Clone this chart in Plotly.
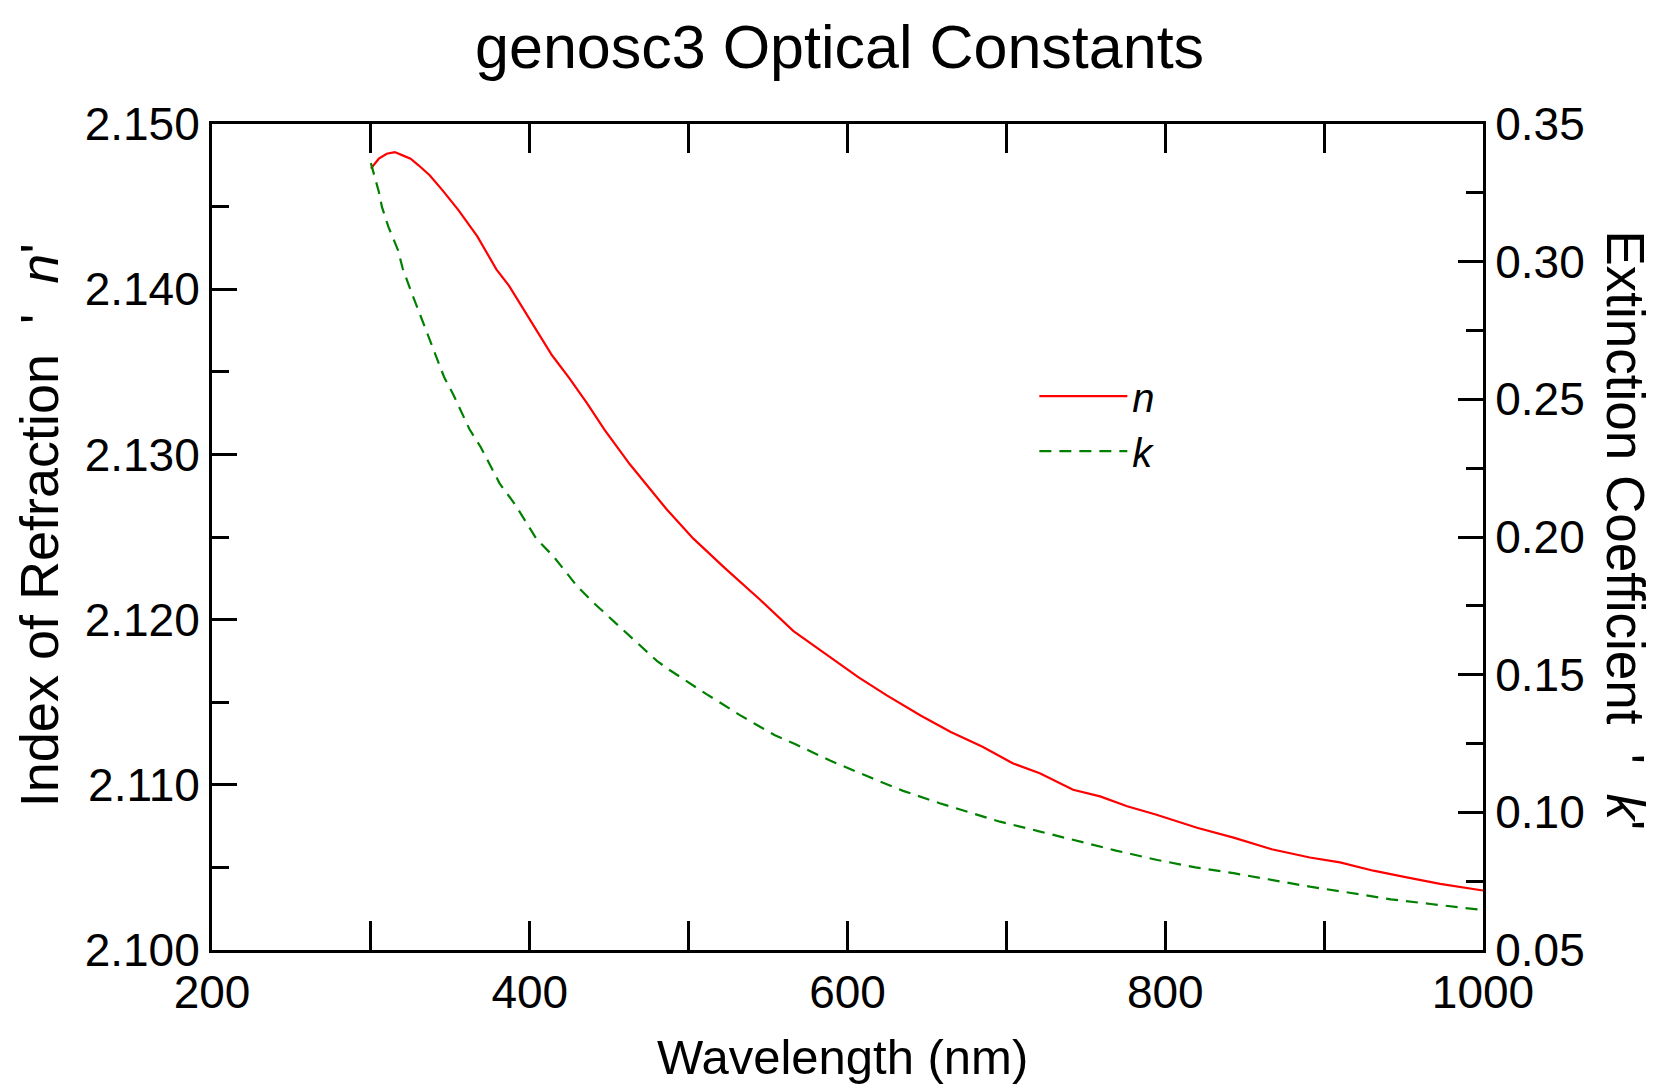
import plotly.graph_objects as go

# Wavelength (nm) and refractive index n (left axis)
wl_n = [300, 305, 310, 315, 320, 325, 330, 337, 345, 355, 367, 379, 387, 400,
        414, 425, 436, 447, 463, 486, 503, 523, 545, 566, 589, 607, 625, 646,
        665, 685, 704, 721, 742, 759, 776, 794, 820, 843, 867, 891, 910, 931,
        952, 973, 1000]
n_vals = [2.1473, 2.1479, 2.1482, 2.1483, 2.1481, 2.1479, 2.1475, 2.1469,
          2.1460, 2.1448, 2.1432, 2.1412, 2.1402, 2.1382, 2.1360, 2.1346,
          2.1331, 2.1315, 2.1294, 2.1267, 2.1249, 2.1231, 2.1212, 2.1193,
          2.1177, 2.1165, 2.1154, 2.1142, 2.1132, 2.1123, 2.1113, 2.1107,
          2.1097, 2.1093, 2.1087, 2.1082, 2.1074, 2.1068, 2.1061, 2.1056,
          2.1053, 2.1048, 2.1044, 2.1040, 2.1036]

# Wavelength (nm) and extinction coefficient k (right axis)
wl_k = [300, 305, 307, 311, 317, 320, 325, 331, 339, 346, 352, 362, 369, 381,
        391, 404, 415, 430, 440, 458, 469, 480, 488, 500, 511, 520, 532, 543,
        554, 567, 589, 613, 635, 658, 671, 683, 696, 720, 744, 769, 795, 819,
        843, 867, 891, 916, 942, 967, 992, 1000]
k_vals = [0.3358, 0.3254, 0.3198, 0.3127, 0.3043, 0.2976, 0.2897, 0.2807,
          0.2686, 0.2582, 0.2516, 0.2392, 0.2328, 0.2195, 0.2116, 0.1995,
          0.1929, 0.1820, 0.1762, 0.1667, 0.1608, 0.1550, 0.1517, 0.1471,
          0.1430, 0.1398, 0.1354, 0.1317, 0.1281, 0.1248, 0.1188, 0.1130,
          0.1078, 0.1033, 0.1011, 0.0990, 0.0966, 0.0932, 0.0896, 0.0861,
          0.0827, 0.0800, 0.0779, 0.0754, 0.0730, 0.0708, 0.0684, 0.0667,
          0.0649, 0.0645]

FONT = "Liberation Sans, Arial, sans-serif"

fig = go.Figure()
fig.add_trace(go.Scatter(x=wl_n, y=n_vals, mode="lines", name="<i>n</i>",
                         line=dict(color="#FF0000", width=2.2), yaxis="y"))
fig.add_trace(go.Scatter(x=wl_k, y=k_vals, mode="lines", name="<i>k</i>",
                         line=dict(color="#008000", width=2.2, dash="12px,8px"),
                         yaxis="y2"))

tickfont = dict(family=FONT, size=46, color="black")

fig.update_layout(
    width=1650, height=1080,
    margin=dict(l=204, r=175, t=116, b=138),
    paper_bgcolor="white", plot_bgcolor="white",
    font=dict(family=FONT, color="black"),
    title=dict(text="genosc3 Optical Constants", x=0.504, xanchor="center",
               xref="container", y=0.964, yanchor="middle", yref="container",
               font=dict(family=FONT, size=61, color="black")),
    showlegend=True,
    legend=dict(x=0.647, y=0.71, xanchor="left", yanchor="top",
                bgcolor="rgba(0,0,0,0)", font=dict(family=FONT, size=40, color="black"),
                itemwidth=88, tracegroupgap=0),
    xaxis=dict(range=[200, 1000], dtick=200, tick0=200, showgrid=False, zeroline=False,
               showline=True, linewidth=3, linecolor="black", mirror="allticks",
               ticks="inside", ticklen=29, tickwidth=2.5, tickcolor="black",
               tickfont=tickfont,
               minor=dict(dtick=100, tick0=200, ticks="inside", ticklen=17,
                          tickwidth=2.5, tickcolor="black", showgrid=False)),
    yaxis=dict(range=[2.100, 2.150], dtick=0.01, tick0=2.1, tickformat=".3f",
               showgrid=False, zeroline=False, showline=True, linewidth=3,
               linecolor="black", mirror=False,
               ticks="inside", ticklen=25, tickwidth=2.5, tickcolor="black",
               tickfont=tickfont,
               minor=dict(dtick=0.005, tick0=2.1, ticks="inside", ticklen=17,
                          tickwidth=2.5, tickcolor="black", showgrid=False)),
    yaxis2=dict(range=[0.05, 0.35], dtick=0.05, tick0=0.05, tickformat=".2f",
                overlaying="y", side="right", showgrid=False, zeroline=False,
                showline=True, linewidth=3, linecolor="black",
                ticks="inside", ticklen=25, tickwidth=2.5, tickcolor="black",
                tickfont=tickfont,
                minor=dict(dtick=0.025, tick0=0.05, ticks="inside", ticklen=17,
                           tickwidth=2.5, tickcolor="black", showgrid=False)),
    annotations=[
        dict(text="Wavelength (nm)", xref="paper", yref="paper",
             x=0.496, y=-0.1295, xanchor="center", yanchor="middle",
             showarrow=False, font=dict(family=FONT, size=49, color="black")),
        dict(text="Index of Refraction  '  <i>n</i>'", xref="paper", yref="paper",
             x=-0.1355, y=0.514, xanchor="center", yanchor="middle", textangle=-90,
             showarrow=False, font=dict(family=FONT, size=54, color="black")),
        dict(text="Extinction Coefficient  '  <i>k</i>'", xref="paper", yref="paper",
             x=1.1125, y=0.508, xanchor="center", yanchor="middle", textangle=90,
             showarrow=False, font=dict(family=FONT, size=53, color="black")),
    ],
)

fig.write_html("out.html")
